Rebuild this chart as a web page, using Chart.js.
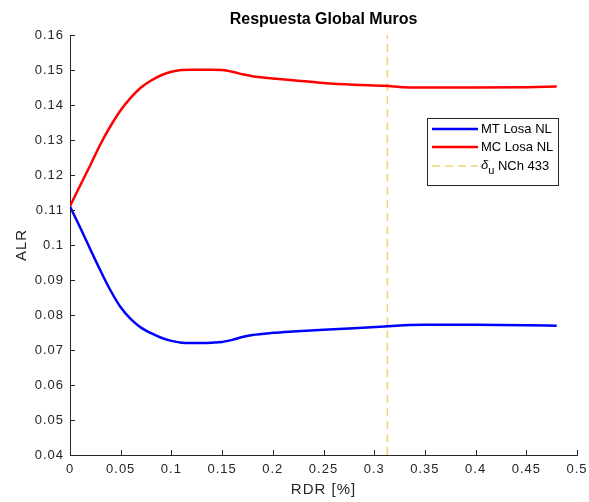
<!DOCTYPE html>
<html>
<head>
<meta charset="utf-8">
<script src="https://cdn.jsdelivr.net/npm/chart.js@4"></script>
<style>
html,body{margin:0;padding:0;background:#fff;}
canvas{display:block;}
</style>
</head>
<body>
<canvas id="c" width="589" height="502"></canvas>
<script>
// ---- data ----
const rdr   = [0, 0.01, 0.02, 0.03, 0.04, 0.05, 0.06, 0.07, 0.08, 0.09, 0.1, 0.11, 0.12, 0.13, 0.14, 0.15, 0.16, 0.17, 0.18, 0.2, 0.22, 0.25, 0.28, 0.31, 0.33, 0.35, 0.4, 0.45, 0.48];
const mtALR = [0.1110, 0.1050, 0.0988, 0.0927, 0.0870, 0.0822, 0.0788, 0.0764, 0.0748, 0.0735, 0.0726, 0.0721, 0.0720, 0.0720, 0.0721, 0.0723, 0.0729, 0.0737, 0.0743, 0.0749, 0.0753, 0.0758, 0.0762, 0.0767, 0.0771, 0.0772, 0.0772, 0.0771, 0.0769];
const mcALR = [0.1111, 0.1170, 0.1228, 0.1288, 0.1340, 0.1385, 0.1421, 0.1450, 0.1470, 0.1485, 0.1495, 0.1500, 0.1501, 0.1501, 0.1501, 0.1500, 0.1495, 0.1488, 0.1482, 0.1476, 0.1471, 0.1463, 0.1458, 0.1455, 0.1451, 0.1450, 0.1450, 0.1451, 0.1453];
const deltaU = 0.313;
const yRange = [0.04, 0.16];
const xRange = [0, 0.5];
const seriesLabels = ['MT Losa NL', 'MC Losa NL', 'NCh 433'];
const titleText = 'Respuesta Global Muros';
const xTitle = 'RDR [%]';
const yTitle = 'ALR';

const toPts = (xs, ys) => xs.map((x, i) => ({x: x, y: ys[i]}));
const fmt = v => String(Number(v.toFixed(3)));
const txt = '#262626';
const FONT = '"Liberation Sans", Arial, sans-serif';

const decor = {
  id: 'decor',
  beforeDraw(chart) { chart.ctx.letterSpacing = '1px'; },
  beforeDatasetsDraw(chart) { chart.ctx.letterSpacing = '0px'; },
  afterDraw(chart) {
    const ctx = chart.ctx, a = chart.chartArea;
    const xs = chart.scales.x, ys = chart.scales.y;
    ctx.save();
    ctx.letterSpacing = '0px';
    // inward ticks
    ctx.strokeStyle = txt; ctx.lineWidth = 1;
    ctx.beginPath();
    xs.ticks.forEach(t => {
      const px = Math.round(xs.getPixelForValue(t.value)) + 0.5;
      ctx.moveTo(px, a.bottom); ctx.lineTo(px, a.bottom - 5);
    });
    ys.ticks.forEach(t => {
      const py = Math.round(ys.getPixelForValue(t.value)) + 0.5;
      ctx.moveTo(a.left, py); ctx.lineTo(a.left + 5, py);
    });
    ctx.stroke();
    // title centered on plot area
    ctx.fillStyle = '#000';
    ctx.font = 'bold 16px ' + FONT;
    ctx.textAlign = 'center'; ctx.textBaseline = 'middle';
    ctx.fillText(titleText, (a.left + a.right) / 2, 20);
    // legend
    const L = a.right - 150, T = a.top + 83, W = 131, H = 67;
    ctx.fillStyle = '#fff';
    ctx.fillRect(L, T, W, H);
    ctx.strokeStyle = '#262626'; ctx.lineWidth = 1;
    ctx.strokeRect(L + 0.5, T + 0.5, W, H);
    const ds = chart.data.datasets;
    const rows = [T + 11, T + 29, T + 48];
    ctx.textAlign = 'left'; ctx.textBaseline = 'middle';
    rows.forEach((ry, i) => {
      const d = ds[i];
      ctx.strokeStyle = d.borderColor; ctx.lineWidth = d.borderWidth;
      ctx.setLineDash(d.borderDash || []);
      ctx.beginPath(); ctx.moveTo(L + 5, ry); ctx.lineTo(L + 51, ry); ctx.stroke();
      ctx.setLineDash([]);
      ctx.fillStyle = '#000';
      if (i < 2) {
        ctx.font = '13px ' + FONT;
        ctx.fillText(d.label, L + 54, ry);
      } else {
        ctx.font = 'italic 13px ' + FONT;
        ctx.fillText('\u03B4', L + 54, ry - 1);
        const w1 = ctx.measureText('\u03B4').width;
        ctx.font = '11px ' + FONT;
        ctx.fillText('u', L + 54 + w1, ry + 5);
        const w2 = ctx.measureText('u').width;
        ctx.font = '13px ' + FONT;
        ctx.fillText(' ' + d.label, L + 54 + w1 + w2, ry);
      }
    });
    ctx.restore();
  }
};

new Chart(document.getElementById('c'), {
  type: 'line',
  data: {
    datasets: [
      {label: seriesLabels[0], data: toPts(rdr, mtALR), borderColor: '#0000FF', borderWidth: 2.5, pointRadius: 0, cubicInterpolationMode: 'monotone', fill: false},
      {label: seriesLabels[1], data: toPts(rdr, mcALR), borderColor: '#FF0000', borderWidth: 2.5, pointRadius: 0, cubicInterpolationMode: 'monotone', fill: false},
      {label: seriesLabels[2], data: [{x: deltaU, y: yRange[0]}, {x: deltaU, y: yRange[1]}], borderColor: 'rgba(237,177,32,0.6)', borderWidth: 1.5, borderDash: [8, 5], pointRadius: 0, fill: false}
    ]
  },
  options: {
    responsive: false,
    animation: false,
    events: [],
    layout: {padding: {top: 35, right: 12, left: 0, bottom: 0}},
    plugins: {legend: {display: false}, tooltip: {enabled: false}, title: {display: false}},
    scales: {
      x: {
        type: 'linear', min: xRange[0], max: xRange[1],
        grid: {display: false, drawTicks: false},
        border: {display: true, color: txt, width: 1},
        ticks: {stepSize: 0.05, padding: 7, color: txt, font: {family: FONT, size: 13}, maxRotation: 0, callback: v => fmt(v)},
        title: {display: true, text: xTitle, color: txt, font: {family: FONT, size: 15}, padding: {top: 0, bottom: 3}},
        afterFit: s => { s.height = 47; s.paddingLeft = 0; s.paddingRight = 0; }
      },
      y: {
        type: 'linear', min: yRange[0], max: yRange[1],
        grid: {display: false, drawTicks: false},
        border: {display: true, color: txt, width: 1},
        ticks: {stepSize: 0.01, padding: 6, color: txt, font: {family: FONT, size: 13}, callback: v => fmt(v)},
        title: {display: true, text: yTitle, color: txt, font: {family: FONT, size: 15}, padding: {top: 13, bottom: 0}},
        afterFit: s => { s.width = 70; s.paddingTop = 0; s.paddingBottom = 0; }
      }
    }
  },
  plugins: [decor]
});
</script>
</body>
</html>
